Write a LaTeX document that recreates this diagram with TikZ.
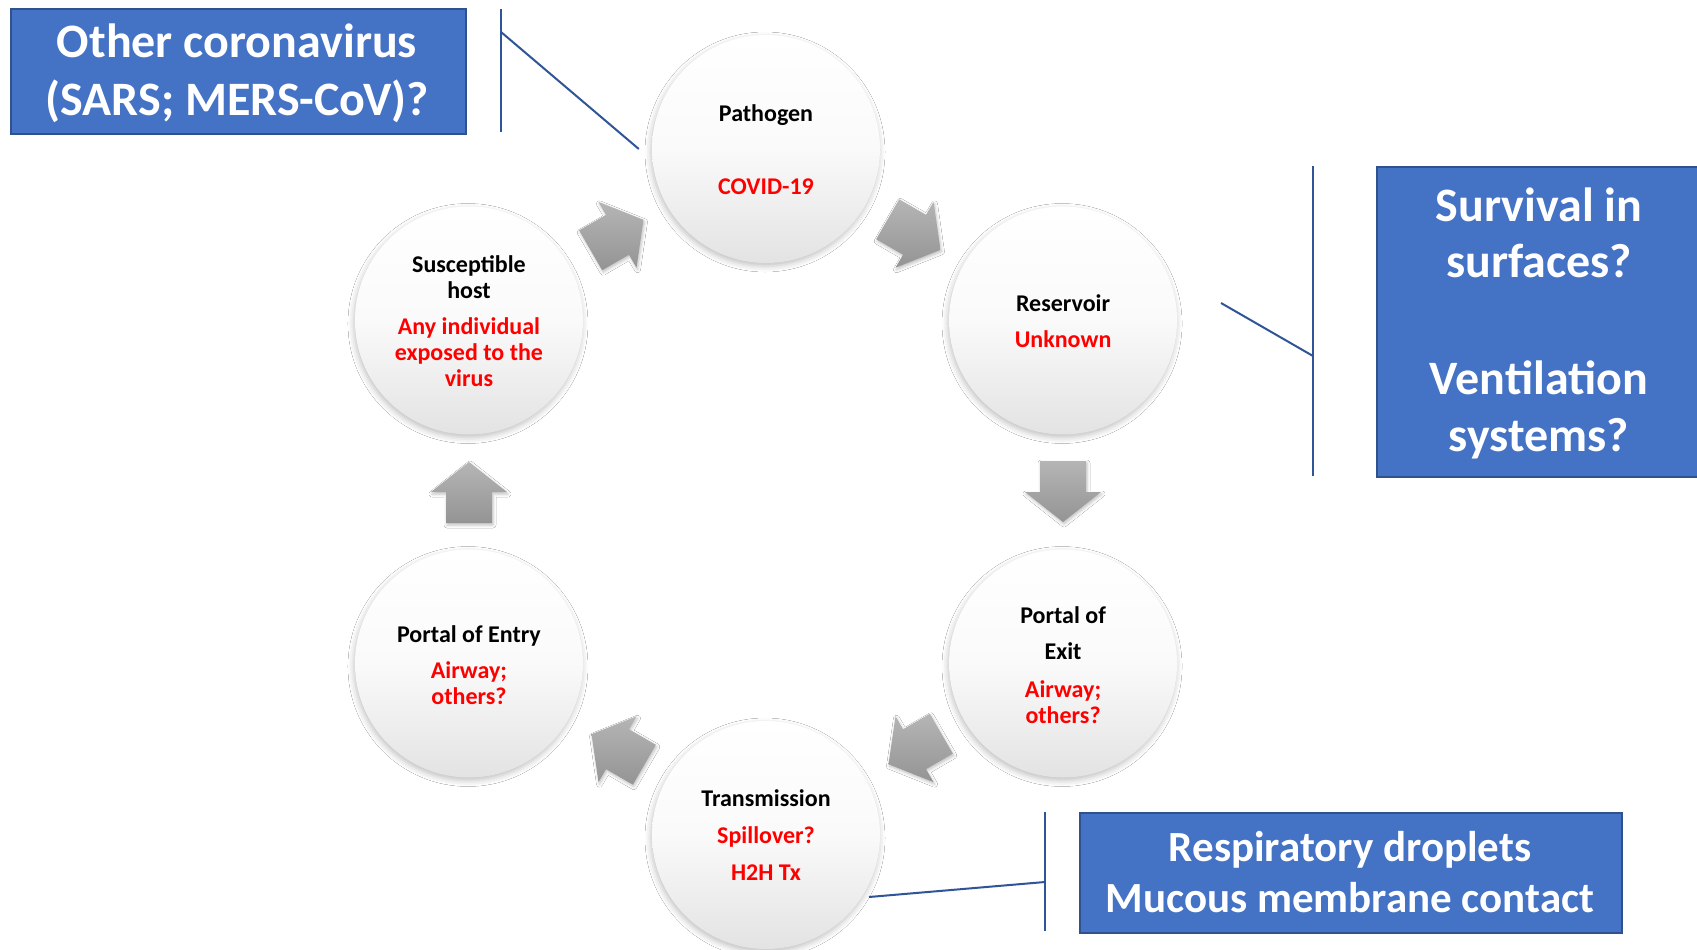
\documentclass[tikz,border=0pt]{standalone}
\usepackage{fontspec}
\setmainfont{Carlito}
\usetikzlibrary{shadows.blur,calc}
\definecolor{boxblue}{HTML}{4472C4}
\definecolor{boxedge}{HTML}{2F528F}
\definecolor{leadblue}{HTML}{2F5597}
\definecolor{redtext}{HTML}{FF0000}
\tikzset{
  stage/.style={circle, minimum size=228pt, inner sep=0pt,
    top color=white, bottom color=black!11, middle color=black!2,
    blur shadow={shadow xshift=-1pt, shadow yshift=-3pt,
      shadow blur radius=6pt, shadow opacity=25}},
  title/.style={font=\fontsize{24}{28}\selectfont\bfseries, text=black,
    anchor=mid, inner sep=0pt},
  note/.style={font=\fontsize{24}{28}\selectfont\bfseries, text=redtext,
    anchor=mid, inner sep=0pt},
  callout/.style={draw=boxedge, line width=2pt, fill=boxblue,
    anchor=north west, inner sep=0pt},
  calltext/.style={font=\fontsize{48}{57}\selectfont\bfseries, text=white,
    anchor=mid, inner sep=0pt},
  smallcalltext/.style={calltext, font=\fontsize{43}{51}\selectfont\bfseries},
  leader/.style={draw=leadblue, line width=2pt},
  cyclearrow/.style={top color=black!29, bottom color=black!42,
    blur shadow={shadow xshift=1pt, shadow yshift=-2pt,
      shadow blur radius=3pt, shadow opacity=25}},
}
\begin{document}
\begin{tikzpicture}[x=1pt, y=1pt]
\path[use as bounding box, fill=white] (0,0) rectangle (1697,-950);

% centre of the cycle
\coordinate (hub) at (766,-492);

% the six stages of the chain
\node[stage] (pathogen)  at ($(hub)+(90:343)$)  {};
\node[stage] (reservoir) at ($(hub)+(30:343)$)  {};
\node[stage] (exit)      at ($(hub)+(-30:343)$) {};
\node[stage] (trans)     at ($(hub)+(-90:343)$) {};
\node[stage] (entry)     at ($(hub)+(-150:343)$) {};
\node[stage] (host)      at ($(hub)+(150:343)$) {};

% clockwise block arrows between the stages
\foreach \a in {60,0,-60,-120,180,120} {
  \begin{scope}[shift={($(hub)+(\a:297)$)}, rotate=\a-90]
    \path[cyclearrow] (-31,-23) -- (0,-23) -- (0,-38) -- (30,0)
      -- (0,38) -- (0,23) -- (-31,23) -- cycle;
  \end{scope}
}

% stage labels
\node[title] (pathogen-t) at ($(pathogen)+(0,29.5)$)  {Pathogen};
\node[note]  (pathogen-n) at ($(pathogen)+(0,-43.5)$) {COVID-19};

\node[title] (reservoir-t) at ($(reservoir)+(0,11.5)$)  {Reservoir};
\node[note]  (reservoir-n) at ($(reservoir)+(0,-24.5)$) {Unknown};

\node[title] (exit-t1) at ($(exit)+(0,42.5)$)  {Portal of};
\node[title] (exit-t2) at ($(exit)+(0,6.5)$)   {Exit};
\node[note]  (exit-n1) at ($(exit)+(0,-31.5)$) {Airway;};
\node[note]  (exit-n2) at ($(exit)+(0,-57.5)$) {others?};

\node[title] (trans-t)  at ($(trans)+(0,30.5)$)  {Transmission};
\node[note]  (trans-n1) at ($(trans)+(0,-6.5)$)  {Spillover?};
\node[note]  (trans-n2) at ($(trans)+(0,-43.5)$) {H2H Tx};

\node[title] (entry-t)  at ($(entry)+(0,23.5)$)  {Portal of Entry};
\node[note]  (entry-n1) at ($(entry)+(0,-12.5)$) {Airway;};
\node[note]  (entry-n2) at ($(entry)+(0,-38.5)$) {others?};

\node[title] (host-t1) at ($(host)+(0,50.5)$)  {Susceptible};
\node[title] (host-t2) at ($(host)+(0,24.5)$)  {host};
\node[note]  (host-n1) at ($(host)+(0,-11.5)$) {Any individual};
\node[note]  (host-n2) at ($(host)+(0,-37.5)$) {exposed to the};
\node[note]  (host-n3) at ($(host)+(0,-63.5)$) {virus};

% callout: other coronaviruses
\node[callout, minimum width=455pt, minimum height=125pt] (cv) at (10,-8) {};
\node[calltext] (cv-1) at (237,-55)  {Other coronavirus};
\node[calltext] (cv-2) at (237,-113) {(SARS; MERS-CoV)?};
\coordinate (cvbar-a) at (501,-9);
\coordinate (cvbar-b) at (501,-132);
\coordinate (cvjoint) at (501,-32);
\draw[leader] (cvbar-a) -- (cvbar-b);
\draw[leader] (cvjoint) -- ([xshift=-13pt]pathogen.west);

% callout: environment
\node[callout, minimum width=330pt, minimum height=310pt] (env) at (1376,-166) {};
\node[calltext] (env-1) at (1539,-219) {Survival in};
\node[calltext] (env-2) at (1539,-275) {surfaces?};
\node[calltext] (env-3) at (1539,-392) {Ventilation};
\node[calltext] (env-4) at (1539,-449) {systems?};
\coordinate (envbar-a) at (1313,-166);
\coordinate (envbar-b) at (1313,-476);
\coordinate (envjoint) at (1313,-356);
\coordinate (envfree) at (1221,-303);
\draw[leader] (envbar-a) -- (envbar-b);
\draw[leader] (envfree) -- (envjoint);

% callout: transmission routes
\node[callout, minimum width=542pt, minimum height=120pt] (route) at (1079,-812) {};
\node[smallcalltext] (route-1) at (1350,-859) {Respiratory droplets};
\node[smallcalltext] (route-2) at (1350,-910) {Mucous membrane contact};
\coordinate (routebar-a) at (1045,-812);
\coordinate (routebar-b) at (1045,-931);
\coordinate (routejoint) at (1045,-882);
\coordinate (routefree) at (869,-897);
\draw[leader] (routebar-a) -- (routebar-b);
\draw[leader] (routefree) -- (routejoint);
\end{tikzpicture}
\end{document}
